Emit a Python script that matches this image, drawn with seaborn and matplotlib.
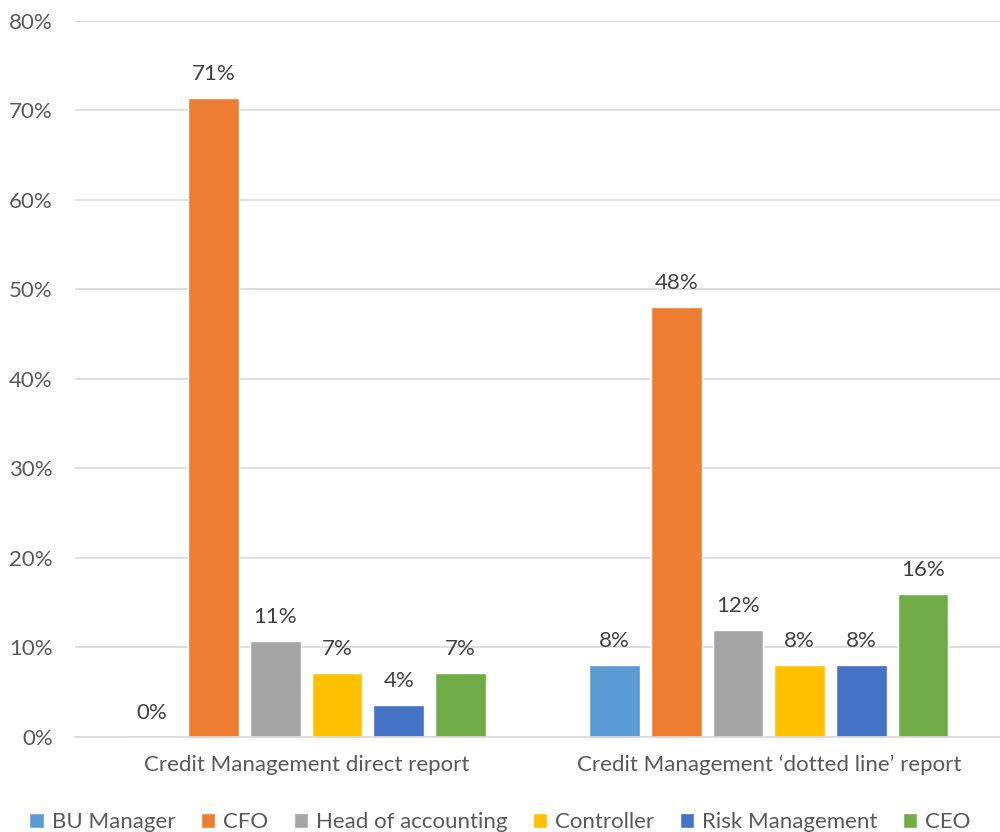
import pandas as pd
import matplotlib.pyplot as plt
import seaborn as sns
from matplotlib.ticker import PercentFormatter

# DATA
groups = ["Credit Management direct report", "Credit Management \u2018dotted line\u2019 report"]
roles = ["BU Manager", "CFO", "Head of accounting", "Controller", "Risk Management", "CEO"]
direct_report = [0.0, 71.43, 10.71, 7.14, 3.57, 7.14]
dotted_line = [8.0, 48.0, 12.0, 8.0, 8.0, 16.0]
colors = ["#5B9BD5", "#ED7D31", "#A5A5A5", "#FFC000", "#4472C4", "#70AD47"]

df = pd.DataFrame({
    "group": [groups[0]] * len(roles) + [groups[1]] * len(roles),
    "role": roles + roles,
    "value": direct_report + dotted_line,
})

# STYLE
sns.set_style("white")
plt.rcParams["font.family"] = ["Lato", "DejaVu Sans"]
text_color = "#595959"
grid_color = "#D9D9D9"
fsize = 16

# GRAPHING
fig = plt.figure(figsize=(10, 8.32), dpi=100)
ax = fig.add_axes([0.075, 0.1142, 0.925, 0.8606])
sns.barplot(data=df, x="group", y="value", hue="role", hue_order=roles,
            palette=colors, width=0.8, gap=0.18, ax=ax, legend=True,
            saturation=1)

for container in ax.containers:
    ax.bar_label(container, labels=[f"{v:.0f}%" for v in container.datavalues],
                 padding=10, fontsize=fsize, color="#404040")

ax.set_ylim(0, 80)
ax.set_xlim(-0.5, 1.5)
ax.set_yticks(range(0, 81, 10))
ax.yaxis.set_major_formatter(PercentFormatter(decimals=0))
ax.grid(axis="y", color=grid_color, linewidth=1.2)
ax.set_axisbelow(True)
for side in ["left", "right", "top"]:
    ax.spines[side].set_visible(False)
ax.spines["bottom"].set_color(grid_color)
ax.spines["bottom"].set_linewidth(1.2)
ax.tick_params(axis="both", length=0, labelsize=fsize, colors=text_color)
ax.tick_params(axis="x", pad=13)
ax.tick_params(axis="y", pad=16)
ax.set_xlabel("")
ax.set_ylabel("")

handles, labels = ax.get_legend_handles_labels()
ax.get_legend().remove()
fig.legend(handles, labels, loc="lower center", ncol=6, frameon=False,
           bbox_to_anchor=(0.5, -0.024), fontsize=fsize, labelcolor=text_color,
           handlelength=0.65, handleheight=0.65, handletextpad=0.35,
           columnspacing=1.15)

plt.savefig("out.png", dpi=100)
